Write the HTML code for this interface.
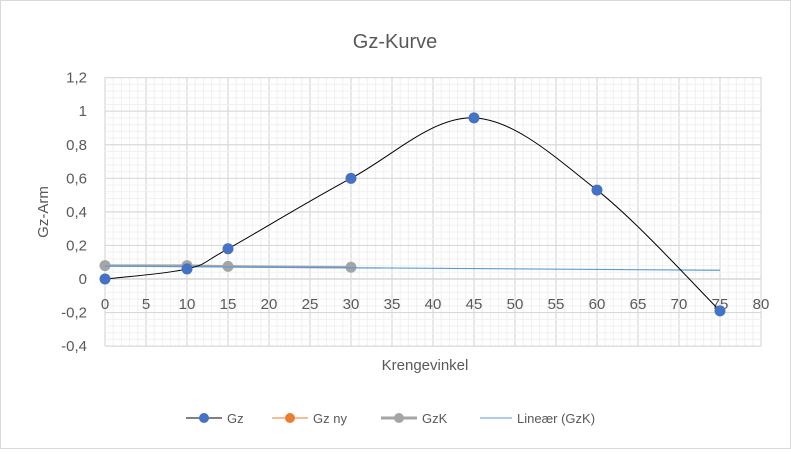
<!DOCTYPE html><html><head><style>body{margin:0}svg text{font-family:"Liberation Sans",sans-serif;fill:#595959}</style></head><body>
<svg id="s" width="791" height="449" xmlns="http://www.w3.org/2000/svg">
<rect x="0.5" y="0.5" width="790" height="448" fill="#fff" stroke="#d9d9d9"/>
<g id="g"></g>
<text x="395" y="48" font-size="20" text-anchor="middle">Gz-Kurve</text>
<text transform="translate(48,212) rotate(-90)" font-size="15" text-anchor="middle">Gz-Arm</text>
<text x="425" y="370" font-size="15" text-anchor="middle">Krengevinkel</text>
<g font-size="13">
<line x1="186" y1="418" x2="222" y2="418" stroke="#000" stroke-width="1"/><circle cx="204" cy="418" r="5" fill="#4472c4"/><text x="227" y="423">Gz</text>
<line x1="272" y1="418" x2="308" y2="418" stroke="#ed7d31" stroke-width="1"/><circle cx="290" cy="418" r="5" fill="#ed7d31"/><text x="313" y="423">Gz ny</text>
<line x1="381" y1="418" x2="417" y2="418" stroke="#a5a5a5" stroke-width="3"/><circle cx="399" cy="418" r="5" fill="#a5a5a5"/><text x="422" y="423">GzK</text>
<line x1="480" y1="418" x2="512" y2="418" stroke="#5b9bd5" stroke-width="1"/><text x="517" y="423">Lineær (GzK)</text>
</g>
</svg>
<script>
var g=document.getElementById('g'),h='';
function X(x){return 105+8.2*x}function Y(y){return 279-167.8*y}
for(var i=0;i<=80;i++){var maj=i%5==0;h+='<line x1="'+X(i)+'" y1="77" x2="'+X(i)+'" y2="346" stroke="'+(maj?'#d9d9d9':'#f0f0f0')+'" stroke-width="'+(maj?1.2:1)+'"/>';}
for(var j=0;j<=40;j++){var v=1.2-j*0.04,maj=j%5==0;h+='<line x1="105" y1="'+Y(v)+'" x2="761" y2="'+Y(v)+'" stroke="'+(maj?'#d9d9d9':'#f0f0f0')+'" stroke-width="'+(maj?1.2:1)+'"/>';}
h+='<line x1="105" y1="'+Y(0)+'" x2="761" y2="'+Y(0)+'" stroke="#d9d9d9" stroke-width="1.5"/>';
for(var j=0;j<=8;j++){var v=1.2-j*0.2;var t=(Math.round(v*10)/10).toString().replace('.',',');if(t=='-0')t='0';h+='<text x="87" y="'+(Y(v)+5)+'" font-size="15" text-anchor="end">'+t+'</text>';}
for(var i=0;i<=80;i+=5)h+='<text x="'+X(i)+'" y="'+(Y(0)+30)+'" font-size="15" text-anchor="middle">'+i+'</text>';
var p=[[0,0],[10,0.06],[15,0.18],[30,0.6],[45,0.96],[60,0.53],[75,-0.19]].map(function(a){return[X(a[0]),Y(a[1])]});
var d='M'+p[0];for(var k=0;k<p.length-1;k++){var p0=p[k-1]||p[k],p1=p[k],p2=p[k+1],p3=p[k+2]||p2;var c1=[p1[0]+(p2[0]-p0[0])/6,p1[1]+(p2[1]-p0[1])/6],c2=[p2[0]-(p3[0]-p1[0])/6,p2[1]-(p3[1]-p1[1])/6];d+='C'+c1+' '+c2+' '+p2;}
var q=[[0,0.08],[10,0.08],[15,0.075],[30,0.07]];
h+='<polyline points="'+q.map(function(a){return X(a[0])+','+Y(a[1])}).join(' ')+'" fill="none" stroke="#a5a5a5" stroke-width="2.5"/>';
q.forEach(function(a){h+='<circle cx="'+X(a[0])+'" cy="'+Y(a[1])+'" r="5.5" fill="#a5a5a5"/>'});
h+='<line x1="'+X(0)+'" y1="'+Y(0.077)+'" x2="'+X(75)+'" y2="'+Y(0.052)+'" stroke="#5b9bd5" stroke-width="1.2"/>';
h+='<path d="'+d+'" fill="none" stroke="#000" stroke-width="1"/>';
p.forEach(function(a){h+='<circle cx="'+a[0]+'" cy="'+a[1]+'" r="5.5" fill="#4472c4"/>'});
g.innerHTML=h;
</script></body></html>
